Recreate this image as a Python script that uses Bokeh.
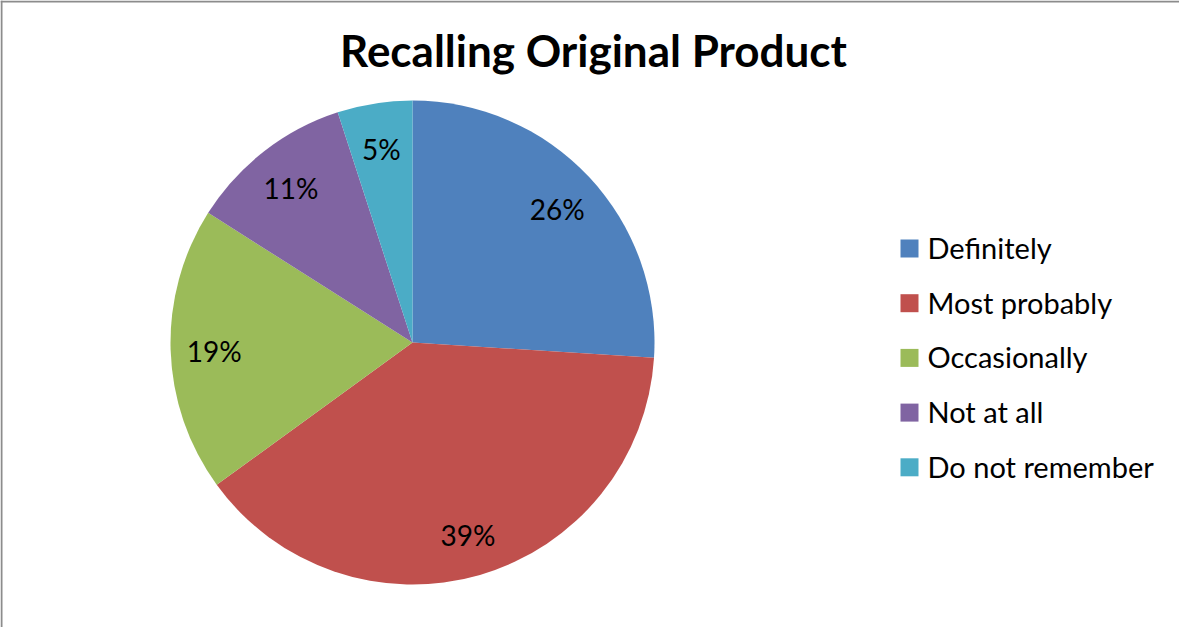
import math
from bokeh.plotting import figure
from bokeh.models import Range1d, Span, ColumnDataSource
from bokeh.core.properties import value
from bokeh.embed import file_html
from bokeh.resources import INLINE

# ---- data ----
categories = ["Definitely", "Most probably", "Occasionally", "Not at all", "Do not remember"]
shares = [26, 39, 19, 11, 5]
colors = ["#4F81BD", "#C0504D", "#9BBB59", "#8064A2", "#4BACC6"]
title_text = "Recalling Original Product"

W, H = 1179, 627
FONT = "Lato"

p = figure(width=W, height=H, output_backend="svg", toolbar_location=None,
           x_range=Range1d(0, W), y_range=Range1d(0, H), min_border=0)
p.axis.visible = False
p.grid.visible = False
p.outline_line_color = None
p.background_fill_color = "white"
p.border_fill_color = "white"

# border (left + top only visible in the reference crop)
p.add_layout(Span(location=1, dimension="height", line_color="#8C8C8C", line_width=2))
p.add_layout(Span(location=H - 1, dimension="width", line_color="#8C8C8C", line_width=2))

# ---- pie ----
cx, cy, r = 412, 285, 242
total = float(sum(shares))
starts, ends, lx, ly, labels = [], [], [], [], []
cum = 0.0
for s in shares:
    a0 = math.pi / 2 - 2 * math.pi * cum / total
    cum += s
    a1 = math.pi / 2 - 2 * math.pi * cum / total
    starts.append(a0)
    ends.append(a1)
    mid = (a0 + a1) / 2
    lx.append(cx + 0.82 * r * math.cos(mid))
    ly.append(cy + 0.82 * r * math.sin(mid) - 2)
    labels.append(f"{s}%")

src = ColumnDataSource(dict(start=starts, end=ends, color=colors, cat=categories))
p.wedge(x=cx, y=cy, radius=r, start_angle="start", end_angle="end",
        direction="clock", fill_color="color", line_color=None, source=src)

p.text(x=lx, y=ly, text=labels, text_font=value(FONT), text_font_size="28px",
       text_align="center", text_baseline="middle", text_color="black")

# ---- title ----
p.text(x=[593], y=[578], text=[title_text], text_font=value(FONT), text_font_size="44px",
       text_font_style="bold", text_align="center", text_baseline="middle",
       text_color="black")

# ---- legend ----
leg_y0, leg_dy = 380, 54.7
ly_leg = [leg_y0 - i * leg_dy for i in range(len(categories))]
p.rect(x=[909] * len(categories), y=[y - 1 for y in ly_leg], width=18, height=18,
       fill_color=colors, line_color=None)
p.text(x=[927] * len(categories), y=ly_leg, text=categories, text_font=value(FONT),
       text_font_size="29px", text_align="left", text_baseline="middle", text_color="black")

open("out.html", "w").write(file_html(p, INLINE))
